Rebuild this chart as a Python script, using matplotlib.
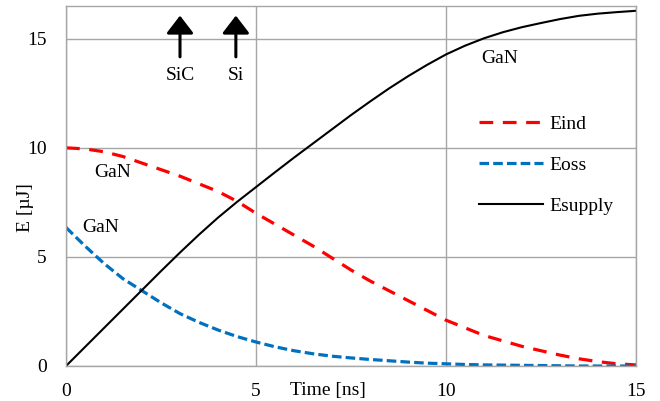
import numpy as np
import matplotlib.pyplot as plt

plt.rcParams['font.family'] = ['Liberation Serif', 'DejaVu Serif']
plt.rcParams['font.size'] = 14

# energy curves vs. time [ns]
t = [0, 0.5, 1, 1.5, 2, 2.5, 3, 3.5, 4, 4.5, 5, 5.5, 6, 6.5, 7, 7.5,
     8, 8.5, 9, 9.5, 10, 10.5, 11, 11.5, 12, 12.5, 13, 13.5, 14, 14.5, 15]
e_ind = [10.0, 9.95, 9.82, 9.6, 9.3, 9.0, 8.7, 8.35, 8.0, 7.55, 7.0, 6.5, 6.0, 5.5, 4.95, 4.4,
         3.9, 3.45, 3.0, 2.55, 2.1, 1.75, 1.4, 1.15, 0.9, 0.7, 0.5, 0.33, 0.2, 0.1, 0.05]
e_oss = [6.35, 5.5, 4.7, 4.0, 3.45, 2.9, 2.4, 2.0, 1.65, 1.35, 1.1, 0.88, 0.7, 0.56, 0.45, 0.37,
         0.3, 0.24, 0.18, 0.13, 0.1, 0.07, 0.05, 0.04, 0.03, 0.02, 0.01, 0.0, 0.0, 0.0, 0.0]
e_supply = [0.0, 0.87, 1.74, 2.61, 3.48, 4.35, 5.2, 6.02, 6.8, 7.52, 8.2, 8.88, 9.55, 10.2, 10.85, 11.5,
            12.12, 12.72, 13.28, 13.8, 14.28, 14.68, 15.02, 15.3, 15.53, 15.72, 15.9, 16.05, 16.15, 16.22, 16.28]

# switching instants of the other devices
markers = [(3.0, 'SiC'), (4.47, 'Si')]

grid_col = '#A6A6A6'

fig = plt.figure(figsize=(6.6, 4.01), dpi=100)
ax = fig.add_axes([66 / 660, 35 / 401, 570 / 660, 360 / 401])

ax.plot(t, e_ind, color='#FF0000', lw=2.3, dashes=(4.3, 3.0), label='Eind')
ax.plot(t, e_oss, color='#0070C0', lw=2.3, dashes=(3.0, 1.3), label='Eoss')
ax.plot(t, e_supply, color='black', lw=1.5, label='Esupply')

for x, name in markers:
    ax.annotate('', xy=(x, 16.06), xytext=(x, 14.17),
                arrowprops=dict(arrowstyle='-|>,head_length=10.8,head_width=8.3',
                                mutation_scale=1, lw=2.2, color='black',
                                shrinkA=0, shrinkB=0))
    ax.text(x, 13.3, name, ha='center', va='center')

ax.text(1.24, 8.85, 'GaN', ha='center', va='center')
ax.text(0.9, 6.33, 'GaN', ha='center', va='center')
ax.text(11.4, 14.1, 'GaN', ha='center', va='center')

ax.set_xlim(0, 15)
ax.set_ylim(0, 16.5)
ax.set_xticks([0, 5, 10, 15])
ax.set_yticks([0, 5, 10, 15])
ax.grid(True, color=grid_col, lw=1.0)
ax.tick_params(length=0)
ax.tick_params(axis='y', pad=14)
ax.tick_params(axis='x', pad=12)
for sp in ax.spines.values():
    sp.set_color(grid_col)
    sp.set_linewidth(1.0)

ax.set_ylabel('E [µJ]')
ax.yaxis.set_label_coords(-0.056, 0.44)
ax.set_xlabel('Time [ns]')
ax.xaxis.set_label_coords(0.46, -0.044)

ax.legend(loc='center left', bbox_to_anchor=(0.7246, 0.559), frameon=False,
          handlelength=3.3, handletextpad=0.3, labelspacing=1.2,
          borderpad=0, borderaxespad=0)

fig.savefig('out.png', dpi=100)
